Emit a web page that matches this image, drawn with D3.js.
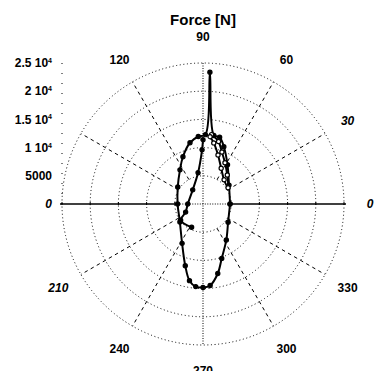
<!DOCTYPE html>
<html>
<head>
<meta charset="utf-8">
<script src="https://cdn.jsdelivr.net/npm/d3@7"></script>
<style>
  body { margin: 0; background: #fff; }
  svg { display: block; font-family: "Liberation Sans", Arial, sans-serif; font-weight: bold; }
</style>
</head>
<body>
<main></main>
<script>
// radial axis (force in N)
const ringValues = [5000, 10000, 15000, 20000, 25000];
const radialTicks = [0, 5000, 10000, 15000, 20000, 25000];
const radialMantissa = ["0", "5000", "1 10", "1.5 10", "2 10", "2.5 10"];
const radialExponent = ["", "", "4", "4", "4", "4"];

// angular axis (degrees)
const angleLabels = [0, 30, 60, 90, 120, 210, 240, 270, 300, 330];
const italicLabels = [0, 30, 210];
const spokeAngles = [30, 60, 120, 150, 210, 240, 300, 330];

// main closed loop with the spike near 90 deg
const mainAngle = [0, 36, 58, 70, 76, 81, 87, 88, 94, 102, 113, 124, 146, 180, 218, 242, 254, 260, 265, 270, 275, 282, 289, 303, 324, 360];
const mainForce = [4800, 5700, 8200, 10800, 12200, 12300, 23400, 12300, 12000, 11100, 9100, 7300, 5400, 4500, 5200, 7900, 11400, 13800, 14700, 14800, 14500, 12600, 10200, 7600, 5500, 4800];

// inner curve on the left
const innerAngle = [90, 91, 99, 126, 180, 205, 216, 244];
const innerForce = [11400, 9600, 5600, 3100, 2700, 3400, 4900, 4600];

// narrow loop on the right (open markers)
const rightAngle = [83, 76, 70, 62, 50, 33, 49, 63, 73, 80, 84];
const rightForce = [12400, 11400, 9800, 8300, 6700, 5300, 5700, 7100, 9100, 11000, 12000];

const w = 376; // svg width
const h = 371; // svg height
const cx = 203, cy = 204; // centre of the polar plot

const scaleR = d3.scaleLinear().domain([0, 25000]).range([0, 141]);
// degrees (0 right, counter-clockwise) -> d3 radial angle (0 up, clockwise)
const scaleA = d3.scaleLinear().domain([0, 360]).range([Math.PI / 2, Math.PI / 2 - 2 * Math.PI]);

const svg = d3.select("main")
  .append("svg")
  .attr("width", w)
  .attr("height", h);

const g = svg.append("g").attr("transform", `translate(${cx},${cy})`);

const rMax = scaleR(25000);
const rMin = scaleR(5000);

// rings
g.selectAll("circle.ring")
  .data(ringValues)
  .enter()
  .append("circle")
  .attr("class", "ring")
  .attr("r", d => scaleR(d))
  .attr("fill", "none")
  .attr("stroke", "#000")
  .attr("stroke-width", 1)
  .attr("stroke-dasharray", "1,2.6");

// spokes (dashed, from 5000 ring outwards)
g.selectAll("line.spoke")
  .data(spokeAngles)
  .enter()
  .append("line")
  .attr("class", "spoke")
  .attr("x1", d => d3.pointRadial(scaleA(d), rMin)[0])
  .attr("y1", d => d3.pointRadial(scaleA(d), rMin)[1])
  .attr("x2", d => d3.pointRadial(scaleA(d), rMax)[0])
  .attr("y2", d => d3.pointRadial(scaleA(d), rMax)[1])
  .attr("stroke", "#000")
  .attr("stroke-width", 1)
  .attr("stroke-dasharray", "3.5,3.5");

// vertical 90/270 axis, dotted
g.append("line")
  .attr("x1", 0).attr("x2", 0)
  .attr("y1", -rMax).attr("y2", rMax)
  .attr("stroke", "#000")
  .attr("stroke-dasharray", "1,1.5");

// horizontal 0/180 axis: dotted inside, solid outside
g.append("line")
  .attr("x1", -rMin).attr("x2", rMin)
  .attr("y1", 0).attr("y2", 0)
  .attr("stroke", "#000")
  .attr("stroke-dasharray", "1,1.5");
[-1, 1].forEach(s => {
  g.append("line")
    .attr("x1", s * rMin).attr("x2", s * (rMax + 2))
    .attr("y1", 0).attr("y2", 0)
    .attr("stroke", "#000")
    .attr("stroke-width", 1.6);
});
// small ticks on the horizontal axis
g.selectAll("line.htick")
  .data(ringValues.flatMap(v => [v, -v]))
  .enter()
  .append("line")
  .attr("class", "htick")
  .attr("x1", d => Math.sign(d) * scaleR(Math.abs(d)))
  .attr("x2", d => Math.sign(d) * scaleR(Math.abs(d)))
  .attr("y1", -2).attr("y2", 1)
  .attr("stroke", "#000");

// left radial scale: sparse dotted line with labels
const axisX = -rMax;
g.append("line")
  .attr("x1", axisX).attr("x2", axisX)
  .attr("y1", -rMax).attr("y2", 0)
  .attr("stroke", "#000")
  .attr("stroke-dasharray", "1,9");

const rl = g.selectAll("text.rlabel")
  .data(radialTicks)
  .enter()
  .append("text")
  .attr("class", "rlabel")
  .attr("x", axisX - 10)
  .attr("y", d => -scaleR(d))
  .attr("dy", "0.35em")
  .attr("text-anchor", "end")
  .attr("font-size", 12)
  .attr("font-style", (d, i) => i === 0 ? "italic" : "normal");
rl.append("tspan").text((d, i) => radialMantissa[i]);
rl.append("tspan")
  .attr("font-size", 7)
  .attr("dy", "-0.6em")
  .text((d, i) => radialExponent[i]);

// angle labels
g.selectAll("text.alabel")
  .data(angleLabels)
  .enter()
  .append("text")
  .attr("class", "alabel")
  .attr("x", d => d3.pointRadial(scaleA(d), 167)[0])
  .attr("y", d => d3.pointRadial(scaleA(d), 167)[1])
  .attr("dy", "0.35em")
  .attr("text-anchor", "middle")
  .attr("font-size", 12)
  .attr("font-style", d => italicLabels.includes(d) ? "italic" : "normal")
  .text(d => d);

// title
svg.append("text")
  .attr("x", cx)
  .attr("y", 20)
  .attr("dy", "0.35em")
  .attr("text-anchor", "middle")
  .attr("font-size", 15)
  .text("Force [N]");

// data curves
const radial = d3.lineRadial()
  .angle(d => scaleA(d[0]))
  .radius(d => scaleR(d[1]))
  .curve(d3.curveCatmullRom);

function drawCurve(angles, forces, filled) {
  const pts = angles.map((a, i) => [a, forces[i]]);
  g.append("path")
    .datum(pts)
    .attr("d", radial)
    .attr("fill", "none")
    .attr("stroke", "#000")
    .attr("stroke-width", 2);
  g.selectAll(null)
    .data(pts)
    .enter()
    .append("circle")
    .attr("cx", d => d3.pointRadial(scaleA(d[0]), scaleR(d[1]))[0])
    .attr("cy", d => d3.pointRadial(scaleA(d[0]), scaleR(d[1]))[1])
    .attr("r", 2.1)
    .attr("fill", filled ? "#000" : "#fff")
    .attr("stroke", "#000")
    .attr("stroke-width", 1.2);
}

drawCurve(mainAngle, mainForce, true);
drawCurve(innerAngle, innerForce, true);
drawCurve(rightAngle, rightForce, false);
</script>
</body>
</html>
